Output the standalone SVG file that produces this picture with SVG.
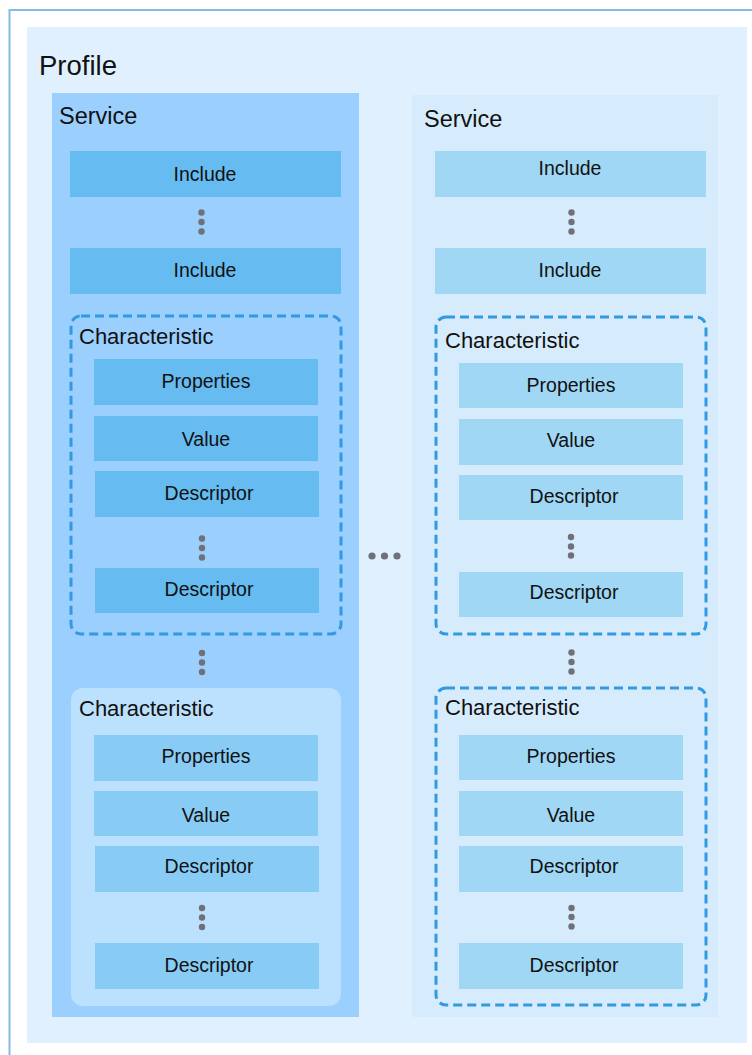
<svg xmlns="http://www.w3.org/2000/svg" width="752" height="1055" viewBox="0 0 752 1055">
<style>
text{font-family:"Liberation Sans",Arial,sans-serif;fill:#111}
.lbl{font-size:19.5px;text-anchor:middle}
.ch{font-size:22px}
.sv{font-size:23.5px}
.bL{fill:#66BBF0}
.bL2{fill:#88CBF4}
.bR{fill:#9FD7F4}
.dash{fill:none;stroke:#3399E0;stroke-width:3;stroke-dasharray:9 5}
.dot{fill:#707078}
</style>
<rect width="752" height="1055" fill="#ffffff"/>
<rect x="9.5" y="10" width="760" height="1060" fill="#ffffff" stroke="#84BCE4" stroke-width="2"/>
<rect id="profile" x="27" y="27" width="720" height="1016" fill="#E0F0FE"/>
<text x="39" y="75" style="font-size:27.5px">Profile</text>

<g id="service-left">
<rect x="52" y="93" width="307" height="924" fill="#9ACFFE"/>
<text class="sv" x="59" y="124">Service</text>
</g>
<g id="include-l1"><rect class="bL" x="70" y="151" width="271" height="46"/><text class="lbl" x="205" y="181">Include</text></g>
<g id="include-l2"><rect class="bL" x="70" y="248" width="271" height="46"/><text class="lbl" x="205" y="277">Include</text></g>

<g id="char-l1">
<rect class="dash" x="71" y="316" width="270" height="318" rx="10"/>
<text class="ch" x="79" y="344">Characteristic</text>
</g>
<g id="prop-l1"><rect class="bL" x="94" y="359" width="224" height="46"/><text class="lbl" x="206" y="388">Properties</text></g>
<g id="value-l1"><rect class="bL" x="94" y="416" width="224" height="45"/><text class="lbl" x="206" y="446">Value</text></g>
<g id="desc-l1a"><rect class="bL" x="95" y="471" width="224" height="46"/><text class="lbl" x="209" y="500">Descriptor</text></g>
<g id="desc-l1b"><rect class="bL" x="95" y="568" width="224" height="45"/><text class="lbl" x="209" y="596">Descriptor</text></g>

<g id="char-l2">
<rect x="71" y="688" width="270" height="318" rx="12" fill="#BBE1FE"/>
<text class="ch" x="79" y="716">Characteristic</text>
</g>
<g id="prop-l2"><rect class="bL2" x="94" y="735" width="224" height="46"/><text class="lbl" x="206" y="763">Properties</text></g>
<g id="value-l2"><rect class="bL2" x="94" y="791" width="224" height="45"/><text class="lbl" x="206" y="822">Value</text></g>
<g id="desc-l2a"><rect class="bL2" x="95" y="846" width="224" height="46"/><text class="lbl" x="209" y="873">Descriptor</text></g>
<g id="desc-l2b"><rect class="bL2" x="95" y="943" width="224" height="46"/><text class="lbl" x="209" y="972">Descriptor</text></g>

<g id="service-right">
<rect x="412" y="95" width="306" height="922" fill="#D6ECFD"/>
<text class="sv" x="424" y="127">Service</text>
</g>
<g id="include-r1"><rect class="bR" x="435" y="151" width="271" height="46"/><text class="lbl" x="570" y="175">Include</text></g>
<g id="include-r2"><rect class="bR" x="435" y="248" width="271" height="46"/><text class="lbl" x="570" y="277">Include</text></g>

<g id="char-r1">
<rect class="dash" x="436" y="317" width="270" height="317" rx="10"/>
<text class="ch" x="445" y="348">Characteristic</text>
</g>
<g id="prop-r1"><rect class="bR" x="459" y="363" width="224" height="45"/><text class="lbl" x="571" y="392">Properties</text></g>
<g id="value-r1"><rect class="bR" x="459" y="419" width="224" height="46"/><text class="lbl" x="571" y="447">Value</text></g>
<g id="desc-r1a"><rect class="bR" x="459" y="475" width="224" height="45"/><text class="lbl" x="574" y="503">Descriptor</text></g>
<g id="desc-r1b"><rect class="bR" x="459" y="572" width="224" height="45"/><text class="lbl" x="574" y="599">Descriptor</text></g>

<g id="char-r2">
<rect class="dash" x="436" y="688" width="270" height="317" rx="10"/>
<text class="ch" x="445" y="715">Characteristic</text>
</g>
<g id="prop-r2"><rect class="bR" x="459" y="735" width="224" height="45"/><text class="lbl" x="571" y="763">Properties</text></g>
<g id="value-r2"><rect class="bR" x="459" y="791" width="224" height="45"/><text class="lbl" x="571" y="822">Value</text></g>
<g id="desc-r2a"><rect class="bR" x="459" y="846" width="224" height="46"/><text class="lbl" x="574" y="873">Descriptor</text></g>
<g id="desc-r2b"><rect class="bR" x="459" y="943" width="224" height="46"/><text class="lbl" x="574" y="972">Descriptor</text></g>

<g id="ellipses">
<circle class="dot" cx="201.5" cy="212.5" r="3.2"/><circle class="dot" cx="201.5" cy="222" r="3.2"/><circle class="dot" cx="201.5" cy="231.5" r="3.2"/>
<circle class="dot" cx="202" cy="538.5" r="3.2"/><circle class="dot" cx="202" cy="548" r="3.2"/><circle class="dot" cx="202" cy="557.5" r="3.2"/>
<circle class="dot" cx="202" cy="653" r="3.2"/><circle class="dot" cx="202" cy="662.5" r="3.2"/><circle class="dot" cx="202" cy="672" r="3.2"/>
<circle class="dot" cx="202" cy="908" r="3.2"/><circle class="dot" cx="202" cy="917.5" r="3.2"/><circle class="dot" cx="202" cy="927" r="3.2"/>
<circle class="dot" cx="571.5" cy="212.5" r="3.2"/><circle class="dot" cx="571.5" cy="222" r="3.2"/><circle class="dot" cx="571.5" cy="231.5" r="3.2"/>
<circle class="dot" cx="571" cy="537" r="3.2"/><circle class="dot" cx="571" cy="546.5" r="3.2"/><circle class="dot" cx="571" cy="555.5" r="3.2"/>
<circle class="dot" cx="571.5" cy="652.5" r="3.2"/><circle class="dot" cx="571.5" cy="662" r="3.2"/><circle class="dot" cx="571.5" cy="671.5" r="3.2"/>
<circle class="dot" cx="571.5" cy="908" r="3.2"/><circle class="dot" cx="571.5" cy="917" r="3.2"/><circle class="dot" cx="571.5" cy="926.5" r="3.2"/>
<circle class="dot" cx="372" cy="556" r="3.6"/><circle class="dot" cx="384.5" cy="556" r="3.6"/><circle class="dot" cx="397" cy="556" r="3.6"/>
</g>
</svg>
